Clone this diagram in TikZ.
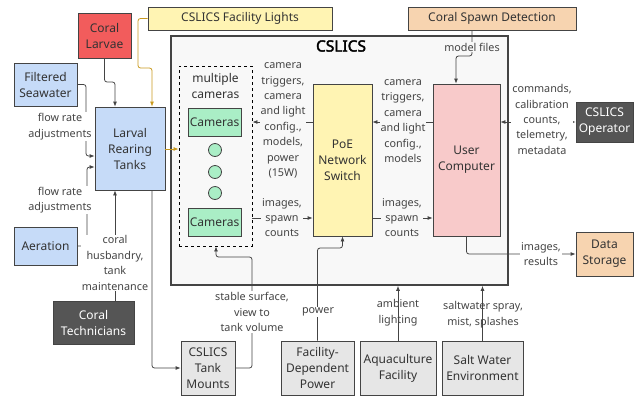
\documentclass[tikz,border=0pt]{standalone}
\usepackage{fontspec}
\setmainfont{Noto Sans}
\newfontfamily\titlefamily[AutoFakeBold=2.5]{Noto Sans}
\usetikzlibrary{arrows.meta}
\definecolor{linec}{HTML}{444444}
\definecolor{textc}{HTML}{333333}
\definecolor{lblc}{HTML}{444444}
\definecolor{larvaered}{HTML}{F25C5C}
\definecolor{lightyellow}{HTML}{FFF4B3}
\definecolor{waterblue}{HTML}{C6DBF8}
\definecolor{camgreen}{HTML}{AAEEC6}
\definecolor{pcpink}{HTML}{F8CACA}
\definecolor{peach}{HTML}{F7D4B0}
\definecolor{envgrey}{HTML}{E6E6E6}
\definecolor{darkgrey}{HTML}{555555}
\definecolor{cslicsbg}{HTML}{F8F8F8}
\definecolor{gold}{HTML}{C8991E}
\newcommand{\boxfont}{\fontsize{12}{16}\selectfont}
\newcommand{\lblfont}{\fontsize{10.8}{15.4}\selectfont}

\begin{document}
\begin{tikzpicture}[x=1pt,y=-1pt,
		line/.style={draw=linec,line width=0.8pt,rounded corners=2.5pt},
		tip/.style={-{Latex[length=5pt,width=4pt]}},
		twotips/.style={{Latex[length=5pt,width=4pt]}-{Latex[length=5pt,width=4pt]}},
		box/.style={draw=linec,line width=0.8pt,inner sep=0pt,align=center,font=\boxfont,text=textc},
		darkbox/.style={box,fill=darkgrey,text=white},
		lbl/.style={font=\lblfont,align=center,text=lblc,inner sep=1pt,fill=white},
		inlbl/.style={lbl,fill=cslicsbg},
		camdot/.style={draw=linec,line width=0.8pt,circle,fill=camgreen,minimum size=13pt,inner sep=0pt}]
			\useasboundingbox (0,0) rectangle (639,397);
			
			\node[box,fill=cslicsbg,line width=1.6pt,minimum width=337,minimum height=249] (cslics) at (339.5,160.5) {};
			\node[font=\fontsize{15.5}{18}\selectfont\titlefamily\bfseries,text=black] (title) at (341,46) {CSLICS};
			
			\node[box,fill=larvaered,minimum width=53,minimum height=45] (larvae) at (104.5,35.5) {Coral\\Larvae};
			\node[box,fill=lightyellow,minimum width=184,minimum height=23] (lights) at (240,18.5) {CSLICS Facility Lights};
			\node[box,fill=waterblue,minimum width=63,minimum height=43] (seawater) at (45.5,84.5) {Filtered\\Seawater};
			\node[box,fill=waterblue,minimum width=70,minimum height=83] (tanks) at (130,148.5) {Larval\\Rearing\\Tanks};
			\node[box,fill=waterblue,minimum width=63,minimum height=38] (aeration) at (45.5,246) {Aeration};
			\node[darkbox,minimum width=81,minimum height=43] (technicians) at (93.5,322.5) {Coral\\Technicians};
			
			\node[box,dashed,line width=0.9pt,draw=black,minimum width=73,minimum height=180] (group) at (215.5,156) {};
			\node[font=\boxfont,text=textc,align=center] (multi) at (215.5,85.5) {multiple\\cameras};
			\node[box,fill=camgreen,minimum width=53,minimum height=28] (cam1) at (214.5,122) {Cameras};
			\node[camdot] (dot1) at (215,150) {};
			\node[camdot] (dot2) at (215,172) {};
			\node[camdot] (dot3) at (215,193) {};
			\node[box,fill=camgreen,minimum width=53,minimum height=28] (cam2) at (214.5,222) {Cameras};
			
			\node[box,fill=lightyellow,minimum width=59,minimum height=152] (poe) at (342.5,160) {PoE\\Network\\Switch};
			\node[box,fill=pcpink,minimum width=67,minimum height=152] (computer) at (466.5,160) {User\\Computer};
			\node[box,fill=peach,minimum width=168,minimum height=23] (detection) at (492,18.5) {Coral Spawn Detection};
			\node[darkbox,minimum width=57,minimum height=40] (operator) at (604.5,122) {CSLICS\\Operator};
			\node[box,fill=peach,minimum width=57,minimum height=44] (storage) at (604.5,254) {Data\\Storage};
			
			\node[box,fill=envgrey,minimum width=54,minimum height=54] (mounts) at (208,368) {CSLICS\\Tank\\Mounts};
			\node[box,fill=envgrey,minimum width=73,minimum height=54] (power) at (317.5,368) {Facility-\\Dependent\\Power};
			\node[box,fill=envgrey,minimum width=76,minimum height=54] (aqua) at (398,368) {Aquaculture\\Facility};
			\node[box,fill=envgrey,minimum width=81,minimum height=54] (saltwater) at (482.5,368) {Salt Water\\Environment};
			
			\draw[line,tip] (larvae.south) -- (larvae.south |- 0,82) -| (115,0 |- tanks.north);
			\draw[line,draw=gold,tip] (lights.west) -| (138,68) -| (152,0 |- tanks.north);
			\draw[line,tip] (seawater.east) -| (86,156) -- (tanks.west |- 0,156);
			\draw[line,tip] (aeration.east) -| (87,167) -- (tanks.west |- 0,167);
			\draw[line,tip] (115,0 |- technicians.north) -- (115,0 |- tanks.south);
			\draw[line,tip] (152,0 |- tanks.south) |- (mounts.west);
			\draw[line,draw=gold,tip] (tanks.east |- 0,149) -- (group.west |- 0,149);
			\draw[line,tip] (mounts.east) -| (252,257) -| (216,0 |- group.south);
			\draw[line,tip] (power.north) |- (poe.south |- 0,248) -- (poe.south);
			\draw[line,tip] (aqua.north) -- (aqua.north |- cslics.south);
			\draw[line,tip] (saltwater.north) -- (saltwater.north |- cslics.south);
			\draw[line,tip] (poe.west |- 0,122) -- (group.east |- 0,122);
			\draw[line,tip] (group.east |- 0,218) -- (poe.west |- 0,218);
			\draw[line,tip] (computer.west |- 0,122) -- (poe.east |- 0,122);
			\draw[line,tip] (poe.east |- 0,218) -- (computer.west |- 0,218);
			\draw[line,tip] (472,0 |- detection.south) -- (472,56) -| (456,0 |- computer.north);
			\draw[line,twotips] (computer.east |- operator.west) -- (operator.west);
			\draw[line,tip] (computer.south) |- (storage.west);
			
			\node[lbl] (flow1) at (60,126.5) {flow rate\\adjustments};
			\node[lbl] (flow2) at (60,200) {flow rate\\adjustments};
			\node[lbl] (husbandry) at (115,263) {coral\\husbandry,\\tank\\maintenance};
			\node[lbl] (stable) at (252,312) {stable surface,\\view to\\tank volume};
			\node[lbl] (powerlbl) at (318,312) {power};
			\node[lbl,fill=none] (ambient) at (398,312.5) {ambient\\lighting};
			\node[lbl,fill=none] (spray) at (483,314.5) {saltwater spray,\\mist, splashes};
			\node[inlbl] (triggers1) at (283,120.5) {camera\\triggers,\\camera\\and light\\config.,\\models,\\power\\(15W)};
			\node[inlbl] (triggers2) at (403,121) {camera\\triggers,\\camera\\and light\\config.,\\models};
			\node[inlbl] (images1) at (282,217.5) {images,\\spawn\\counts};
			\node[inlbl] (images2) at (402,217.5) {images,\\spawn\\counts};
			\node[inlbl] (modelfiles) at (472,47) {model files};
			\node[lbl] (commands) at (542,119.5) {commands,\\calibration\\counts,\\telemetry,\\metadata};
			\node[lbl] (results) at (541,254) {images,\\results};
		\end{tikzpicture}
\end{document}
